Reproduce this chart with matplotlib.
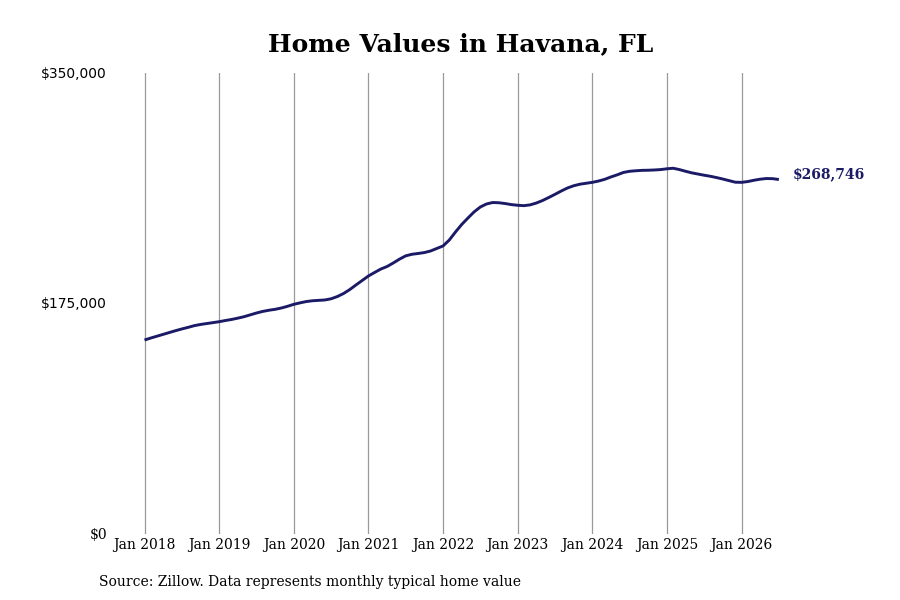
import matplotlib
matplotlib.use("Agg")
import matplotlib.pyplot as plt

# Monthly typical home value, Jan 2018 .. Jul 2026 (month index 0 = Jan 2018)
values = [
    146900, 148400, 149800, 151200, 152600, 154000, 155300, 156500, 157800, 158700, 159400, 160100,
    160800, 161700, 162500, 163500, 164600, 166000, 167400, 168600, 169500, 170200, 171200, 172500,
    174000, 175100, 176100, 176700, 177000, 177300, 178200, 179900, 182200, 185200, 188700, 192100,
    195500, 198200, 200800, 202700, 205400, 208300, 210800, 212000, 212600, 213300, 214500, 216400,
    218300, 222800, 228900, 234600, 239500, 244200, 247900, 250200, 251300, 251100, 250500, 249700,
    249200, 248900, 249500, 250900, 252800, 255100, 257500, 260000, 262300, 264000, 265200, 265900,
    266600, 267600, 268900, 270700, 272300, 274100, 275000, 275400, 275700, 275800, 276000, 276300,
    276900, 277300, 276300, 275000, 273800, 272900, 272000, 271200, 270200, 269100, 267900, 266700,
    266600, 267200, 268200, 269000, 269500, 269400, 268746,
]
months = list(range(len(values)))

tick_months = [0, 12, 24, 36, 48, 60, 72, 84, 96]
tick_labels = ["Jan 2018", "Jan 2019", "Jan 2020", "Jan 2021", "Jan 2022",
               "Jan 2023", "Jan 2024", "Jan 2025", "Jan 2026"]
y_ticks = [0, 175000, 350000]
y_labels = ["$0", "$175,000", "$350,000"]

title = "Home Values in Havana, FL"
source = "Source: Zillow. Data represents monthly typical home value"
line_color = "#1b1a66"

fig = plt.figure(figsize=(9, 6), dpi=100)
ax = fig.add_axes([0.125, 1 - 533.5 / 600, 0.795, (533.5 - 72.5) / 600])

ax.plot(months, values, color=line_color, linewidth=2.1, solid_capstyle="butt", zorder=3)

ax.set_xlim(-5.15, 109.9)
ax.set_ylim(0, 350000)

ax.set_xticks(tick_months)
ax.set_xticklabels(tick_labels, fontfamily="DejaVu Serif", fontsize=10)
ax.set_yticks(y_ticks)
ax.set_yticklabels(y_labels, fontsize=10)
yl = ax.get_yticklabels()
yl[0].set_fontfamily("DejaVu Serif")
yl[1].set_fontfamily("DejaVu Sans")
yl[2].set_fontfamily("DejaVu Sans")

ax.tick_params(axis="x", length=0, pad=3.5)
ax.tick_params(axis="y", length=0, pad=4)

ax.grid(axis="x", color="#999999", linewidth=0.9)
ax.grid(axis="y", visible=False)
for s in ax.spines.values():
    s.set_visible(False)

ax.annotate(f"${values[-1]:,}", xy=(months[-1], values[-1]), xytext=(10, 3.6),
            textcoords="offset points", fontfamily="DejaVu Serif", fontweight="bold",
            fontsize=10, color=line_color, va="center", ha="left")

fig.text(461 / 900, 1 - 44 / 600, title, fontfamily="DejaVu Serif", fontweight="bold",
         fontsize=18, ha="center", va="center")
fig.text(99 / 900, 1 - 582 / 600, source, fontfamily="DejaVu Serif", fontsize=10,
         ha="left", va="center")

fig.savefig("out.png", dpi=100)
